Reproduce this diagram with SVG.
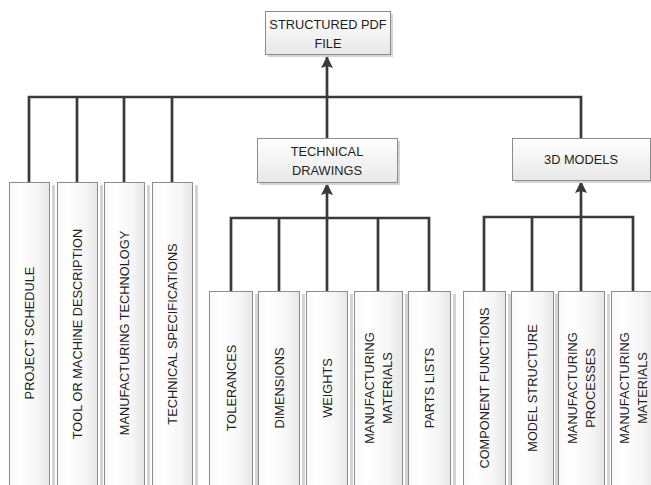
<svg xmlns="http://www.w3.org/2000/svg" width="651" height="485" viewBox="0 0 651 485">
<defs>
<linearGradient id="gv" x1="0" y1="0" x2="0" y2="1">
<stop offset="0" stop-color="#ffffff"/>
<stop offset="1" stop-color="#e8e8e8"/>
</linearGradient>
<linearGradient id="gh" x1="0" y1="0" x2="1" y2="0">
<stop offset="0" stop-color="#f8f8f8"/>
<stop offset="0.25" stop-color="#ffffff"/>
<stop offset="0.7" stop-color="#f6f6f6"/>
<stop offset="1" stop-color="#e6e6e6"/>
</linearGradient>
<marker id="arr" viewBox="0 0 12 13" refX="12" refY="6" markerUnits="userSpaceOnUse" markerWidth="12" markerHeight="13" orient="auto">
<path d="M0,0 L12,6 L0,12 L2,6 Z" fill="#3a3a3a"/>
</marker>
</defs>
<style>
.box{fill:url(#gv);stroke:#8c8c8c;stroke-width:1}
.col{fill:url(#gh);stroke:#8c8c8c;stroke-width:1}
.sh{fill:#d4d4d4}
.ln{fill:none;stroke:#3a3a3a;stroke-width:2.7;stroke-linecap:butt;stroke-linejoin:miter}
text{font-family:"Liberation Sans",Arial,sans-serif;font-size:12.8px;fill:#1e1e1e;text-anchor:middle}
</style>
<rect width="651" height="485" fill="#ffffff"/>
<g id="connectors">
<path class="ln" d="M29,182 V97 H581 V138"/>
<path class="ln" d="M77,97 V182 M124,97 V182 M172,97 V182"/>
<path class="ln" d="M327,97 V138"/>
<path class="ln" d="M327,97 V56" marker-end="url(#arr)"/>
<path class="ln" d="M231,291 V218 H429 V291 M279,218 V291 M327,218 V291 M378,218 V291"/>
<path class="ln" d="M327,218 V183" marker-end="url(#arr)"/>
<path class="ln" d="M484,291 V217 H633 V291 M532,217 V291 M581,217 V291"/>
<path class="ln" d="M581,217 V181" marker-end="url(#arr)"/>
</g>
<g id="structured-pdf-file">
<rect class="sh" x="268" y="14" width="125" height="43"/>
<rect class="box" x="265.5" y="11.5" width="125" height="43"/>
<text x="328" y="29">STRUCTURED PDF</text>
<text x="328" y="48">FILE</text>
</g>
<g id="technical-drawings">
<rect class="sh" x="260" y="141" width="140" height="44"/>
<rect class="box" x="257.5" y="138.5" width="140" height="44"/>
<text x="327" y="156">TECHNICAL</text>
<text x="327" y="175">DRAWINGS</text>
</g>
<g id="3d-models">
<rect class="sh" x="515" y="141" width="138" height="42"/>
<rect class="box" x="512.5" y="138.5" width="138" height="42"/>
<text x="581" y="164">3D MODELS</text>
</g>
<g id="project-schedule">
<rect class="sh" x="52" y="185" width="3" height="305"/>
<rect class="col" x="9.5" y="182.5" width="40" height="310"/>
<text transform="translate(29,333) rotate(-90)" dy="4.5">PROJECT SCHEDULE</text>
</g>
<g id="tool-or-machine-description">
<rect class="sh" x="100" y="185" width="3" height="305"/>
<rect class="col" x="57.5" y="182.5" width="40" height="310"/>
<text transform="translate(77,334) rotate(-90)" dy="4.5">TOOL OR MACHINE DESCRIPTION</text>
</g>
<g id="manufacturing-technology">
<rect class="sh" x="147" y="185" width="3" height="305"/>
<rect class="col" x="104.5" y="182.5" width="40" height="310"/>
<text transform="translate(124,333) rotate(-90)" dy="4.5">MANUFACTURING TECHNOLOGY</text>
</g>
<g id="technical-specifications">
<rect class="sh" x="195" y="185" width="3" height="305"/>
<rect class="col" x="152.5" y="182.5" width="40" height="310"/>
<text transform="translate(172,334) rotate(-90)" dy="4.5">TECHNICAL SPECIFICATIONS</text>
</g>
<g id="tolerances">
<rect class="sh" x="255" y="294" width="3" height="200"/>
<rect class="col" x="209.5" y="291.5" width="43" height="200"/>
<text transform="translate(231,388) rotate(-90)" dy="4.5">TOLERANCES</text>
</g>
<g id="dimensions">
<rect class="sh" x="302" y="294" width="3" height="200"/>
<rect class="col" x="258.5" y="291.5" width="41" height="200"/>
<text transform="translate(279,388) rotate(-90)" dy="4.5">DIMENSIONS</text>
</g>
<g id="weights">
<rect class="sh" x="350" y="294" width="3" height="200"/>
<rect class="col" x="306.5" y="291.5" width="41" height="200"/>
<text transform="translate(327,388) rotate(-90)" dy="4.5">WEIGHTS</text>
</g>
<g id="manufacturing-materials-td">
<rect class="sh" x="405" y="294" width="3" height="200"/>
<rect class="col" x="354.5" y="291.5" width="48" height="200"/>
<text transform="translate(378,388) rotate(-90)"><tspan x="0" y="-4.5">MANUFACTURING</tspan><tspan x="0" y="13.5">MATERIALS</tspan></text>
</g>
<g id="parts-lists">
<rect class="sh" x="453" y="294" width="3" height="200"/>
<rect class="col" x="408.5" y="291.5" width="42" height="200"/>
<text transform="translate(429,388) rotate(-90)" dy="4.5">PARTS LISTS</text>
</g>
<g id="component-functions">
<rect class="sh" x="508" y="294" width="3" height="200"/>
<rect class="col" x="463.5" y="291.5" width="42" height="200"/>
<text transform="translate(484,388) rotate(-90)" dy="4.5">COMPONENT FUNCTIONS</text>
</g>
<g id="model-structure">
<rect class="sh" x="555" y="294" width="3" height="200"/>
<rect class="col" x="511.5" y="291.5" width="42" height="200"/>
<text transform="translate(532,388) rotate(-90)" dy="4.5">MODEL STRUCTURE</text>
</g>
<g id="manufacturing-processes">
<rect class="sh" x="607" y="294" width="3" height="200"/>
<rect class="col" x="558.5" y="291.5" width="46" height="200"/>
<text transform="translate(581,388) rotate(-90)"><tspan x="0" y="-4.5">MANUFACTURING</tspan><tspan x="0" y="13.5">PROCESSES</tspan></text>
</g>
<g id="manufacturing-materials-3d">
<rect class="col" x="611.5" y="291.5" width="44" height="200"/>
<text transform="translate(633,388) rotate(-90)"><tspan x="0" y="-4.5">MANUFACTURING</tspan><tspan x="0" y="13.5">MATERIALS</tspan></text>
</g>
</svg>
